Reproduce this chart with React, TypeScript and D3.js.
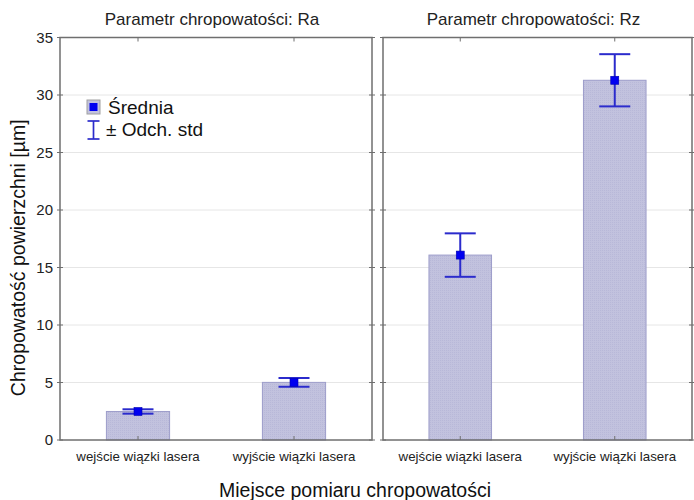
import React from "react";
import * as d3 from "d3";

// Measurement sites (x categories)
const categories = ["wejście wiązki lasera", "wyjście wiązki lasera"];
// Roughness parameters, one panel each
const parameters = ["Ra", "Rz"];
// Mean values [µm] per parameter, in category order
const meanRa = [2.48, 5.01];
const meanRz = [16.08, 31.28];
// Standard deviations [µm]
const sdRa = [0.19, 0.38];
const sdRz = [1.89, 2.27];
// Y axis ticks
const yTicks = [0, 5, 10, 15, 20, 25, 30, 35];

const W = 694;
const H = 500;
const top = 37.5;
const bottom = 440;
const panelsX: [number, number][] = [
  [60, 372],
  [383, 692],
];

const FONT = "'Liberation Sans', Arial, sans-serif";
const BAR_FILL = "#c2c2de";
const BAR_STROKE = "#9d9dca";
const ERR = "#2b2bcc";
const MEAN = "#0000f0";
const FRAME = "#6f6f6f";
const GRID = "#e6e6e6";

export default function App() {
  const y = d3.scaleLinear().domain([0, 35]).range([bottom, top]);
  const series = [
    { name: parameters[0], means: meanRa, sds: sdRa },
    { name: parameters[1], means: meanRz, sds: sdRz },
  ];

  return (
    <svg
      width={W}
      height={H}
      style={{ position: "absolute", left: 0, top: 0, background: "#fff" }}
      fontFamily={FONT}
    >
      <defs>
        <pattern id="barTex" width="2" height="2" patternUnits="userSpaceOnUse">
          <rect width="2" height="2" fill={BAR_FILL} />
          <rect width="1" height="1" fill="#b8b8d8" />
        </pattern>
      </defs>
      {series.map((s, pi) => {
        const [x0, x1] = panelsX[pi];
        const x = d3.scalePoint<string>().domain(categories).range([x0, x1]).padding(0.5);
        const bw = x.step() * 0.405;
        const cap = 31;
        return (
          <g key={s.name}>
            <text
              x={(x0 + x1) / 2 - 4}
              y={25}
              textAnchor="middle"
              fontSize={17}
              fill="#222"
            >
              {`Parametr chropowatości: ${s.name}`}
            </text>
            {/* grid */}
            {yTicks
              .filter((t) => t > 0 && t < 35)
              .map((t) => (
                <line key={t} x1={x0} x2={x1} y1={y(t)} y2={y(t)} stroke={GRID} strokeWidth={1} />
              ))}
            {/* bars */}
            {categories.map((c, i) => (
              <rect
                key={c}
                x={x(c)! - bw / 2}
                y={y(s.means[i])}
                width={bw}
                height={y(0) - y(s.means[i])}
                fill="url(#barTex)"
                stroke={BAR_STROKE}
                strokeWidth={1}
              />
            ))}
            {/* error bars and means */}
            {categories.map((c, i) => {
              const cx = x(c)!;
              const hi = y(s.means[i] + s.sds[i]);
              const lo = y(s.means[i] - s.sds[i]);
              return (
                <g key={c}>
                  <line x1={cx} x2={cx} y1={hi} y2={lo} stroke={ERR} strokeWidth={2} />
                  <line x1={cx - cap / 2} x2={cx + cap / 2} y1={hi} y2={hi} stroke={ERR} strokeWidth={2} />
                  <line x1={cx - cap / 2} x2={cx + cap / 2} y1={lo} y2={lo} stroke={ERR} strokeWidth={2} />
                  <rect
                    x={cx - 4}
                    y={y(s.means[i]) - 4}
                    width={8}
                    height={8}
                    fill={MEAN}
                    stroke="#0000b0"
                    strokeWidth={0.6}
                  />
                </g>
              );
            })}
            {/* ticks */}
            {yTicks.map((t) => (
              <g key={t}>
                <line x1={x0 - 3} x2={x0 + 3} y1={y(t)} y2={y(t)} stroke={FRAME} strokeWidth={1} />
                <line x1={x1 - 3} x2={x1 + 3} y1={y(t)} y2={y(t)} stroke={FRAME} strokeWidth={1} />
              </g>
            ))}
            {categories.map((c) => (
              <g key={c}>
                <line x1={x(c)!} x2={x(c)!} y1={top} y2={top + 4} stroke={FRAME} strokeWidth={1} />
                <line x1={x(c)!} x2={x(c)!} y1={bottom} y2={bottom - 4} stroke={FRAME} strokeWidth={1} />
                <text x={x(c)!} y={461} textAnchor="middle" fontSize={13.3} fill="#222">
                  {c}
                </text>
              </g>
            ))}
            <rect
              x={x0}
              y={top}
              width={x1 - x0}
              height={bottom - top}
              fill="none"
              stroke={FRAME}
              strokeWidth={1.5}
            />
          </g>
        );
      })}
      {/* y tick labels */}
      {yTicks.map((t) => (
        <text key={t} x={53} y={y(t)} dy="0.36em" textAnchor="end" fontSize={15} fill="#222">
          {t}
        </text>
      ))}
      {/* axis titles */}
      <text
        transform={`translate(25,${(top + bottom) / 2 + 19}) rotate(-90)`}
        textAnchor="middle"
        fontSize={19.5}
        fill="#111"
      >
        Chropowatość powierzchni [µm]
      </text>
      <text x={355} y={497} textAnchor="middle" fontSize={19.5} fill="#111">
        Miejsce pomiaru chropowatości
      </text>
      {/* legend */}
      <g>
        <rect x={87} y={100} width={13} height={14} fill={BAR_FILL} stroke="#a0a0a0" strokeWidth={1} />
        <rect x={89.5} y={103} width={8} height={8} fill={MEAN} />
        <text x={108} y={113.5} fontSize={19} fill="#111">
          Średnia
        </text>
        <line x1={93.5} x2={93.5} y1={121} y2={139} stroke={ERR} strokeWidth={1.7} />
        <line x1={87.5} x2={99.5} y1={121} y2={121} stroke={ERR} strokeWidth={1.7} />
        <line x1={87.5} x2={99.5} y1={139} y2={139} stroke={ERR} strokeWidth={1.7} />
        <text x={106} y={136} fontSize={19} fill="#111">
          ± Odch. std
        </text>
      </g>
    </svg>
  );
}
